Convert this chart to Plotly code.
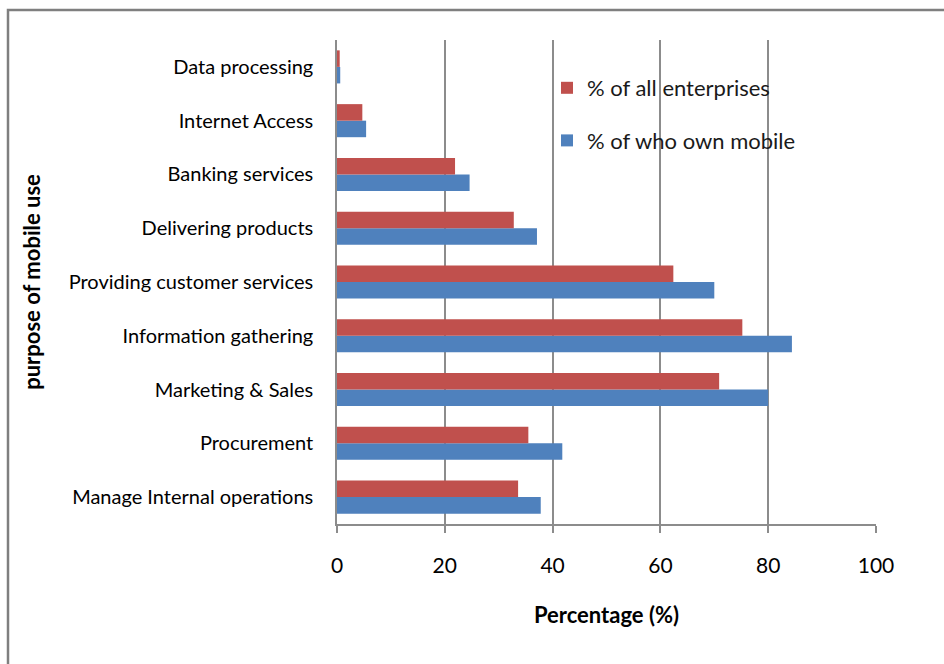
import plotly.graph_objects as go

# Purposes of mobile use, listed bottom to top
categories = [
    "Manage Internal operations",
    "Procurement",
    "Marketing & Sales",
    "Information gathering",
    "Providing customer services",
    "Delivering products",
    "Banking services",
    "Internet Access",
    "Data processing",
]
all_enterprises = [33.6, 35.5, 70.9, 75.2, 62.4, 32.8, 21.9, 4.7, 0.5]
own_mobile = [37.8, 41.8, 80.0, 84.4, 70.0, 37.1, 24.6, 5.4, 0.6]
x_ticks = [0, 20, 40, 60, 80, 100]

FONT = "Lato, 'Open Sans', sans-serif"
RED = "#C0504D"
BLUE = "#4F81BD"
GRID = "#8C8C8C"

# plot area in pixels
W, H = 944, 664
L, R, T, B = 337, 876, 40, 524
pw, ph = R - L, B - T


def px_x(p):
    return (p - L) / pw


def px_y(p):
    return (B - p) / ph


fig = go.Figure()
fig.add_trace(go.Bar(
    y=categories, x=own_mobile, orientation="h", name="% of who own mobile",
    marker=dict(color=BLUE, line=dict(width=0)), legendgroup="b", legendrank=2,
))
fig.add_trace(go.Bar(
    y=categories, x=all_enterprises, orientation="h", name="% of all enterprises",
    marker=dict(color=RED, line=dict(width=0)), legendgroup="a", legendrank=1,
))

fig.update_layout(
    width=W, height=H,
    margin=dict(l=L, r=W - R, t=T, b=H - B),
    paper_bgcolor="white", plot_bgcolor="white",
    barmode="group", bargap=0.385, bargroupgap=0,
    font=dict(family=FONT, color="#000000"),
    showlegend=True,
    legend=dict(
        x=px_x(547), y=px_y(67), xanchor="left", yanchor="top",
        traceorder="grouped", tracegroupgap=21,
        font=dict(size=22, family=FONT, color="#1a1a1a"),
        bgcolor="rgba(0,0,0,0)", itemwidth=30,
    ),
    xaxis=dict(
        range=[0, 100], tickvals=x_ticks, ticktext=[str(v) for v in x_ticks],
        showgrid=True, gridcolor=GRID, gridwidth=1.5,
        showline=True, linecolor=GRID, linewidth=1.5,
        ticks="outside", ticklen=7, tickcolor=GRID, tickwidth=1.5,
        tickfont=dict(size=21, family=FONT), zeroline=False,
        ticklabelstandoff=15,
        title=dict(text="<b>Percentage (%)</b>", font=dict(size=22, family=FONT), standoff=32),
        fixedrange=True,
    ),
    yaxis=dict(
        type="category", categoryorder="array", categoryarray=categories,
        showline=True, linecolor=GRID, linewidth=1.5,
        ticks="", tickfont=dict(size=20, family=FONT),
        ticklabelstandoff=18,
        title=dict(text="<b>purpose of mobile use</b>", font=dict(size=22, family=FONT), standoff=22),
        fixedrange=True,
    ),
    shapes=[dict(
        type="rect", xref="paper", yref="paper",
        x0=px_x(8), x1=px_x(960), y0=px_y(10), y1=px_y(700),
        line=dict(color="#7F7F7F", width=2.5), fillcolor="rgba(0,0,0,0)", layer="below",
    )],
)

fig.write_html("out.html")
